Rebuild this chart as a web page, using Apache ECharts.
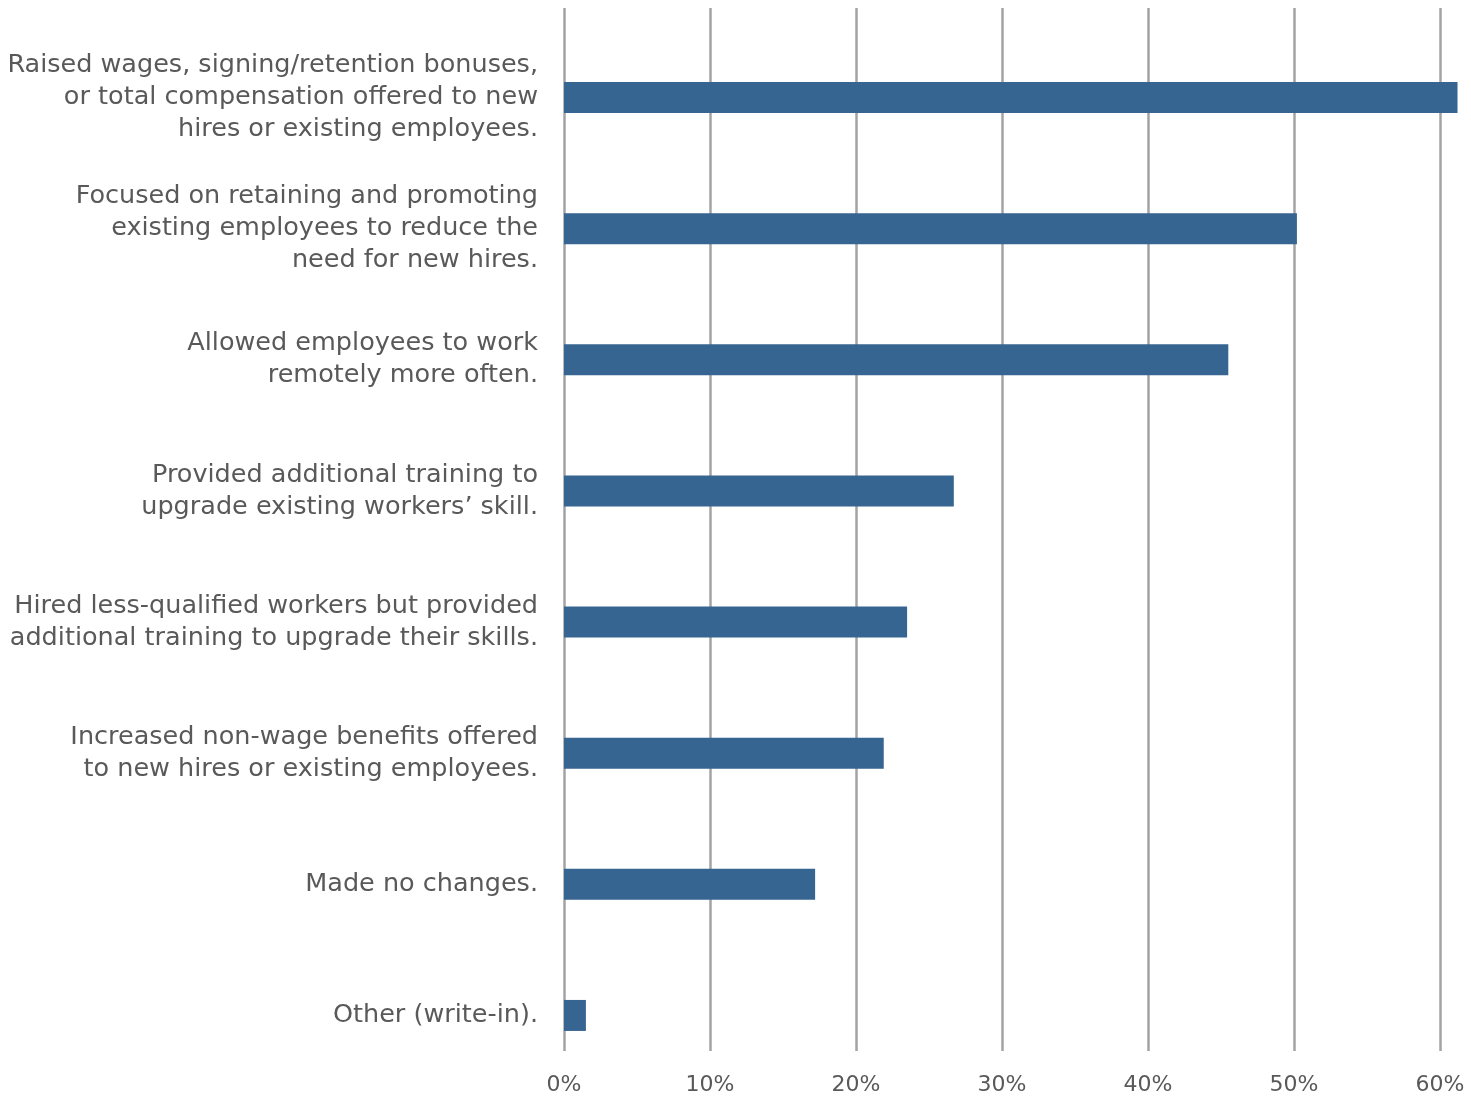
<!DOCTYPE html>
<html>
<head>
<meta charset="utf-8">
<style>
  html, body { margin: 0; padding: 0; background: #ffffff; }
  #chart { width: 1471px; height: 1097px; }
</style>
<script src="https://cdn.jsdelivr.net/npm/echarts@6/dist/echarts.min.js"></script>
</head>
<body>
<div id="chart"></div>
<script>
// Workforce strategies, share of respondents (%)
const categories = [
  'Raised wages, signing/retention bonuses,\nor total compensation offered to new\nhires or existing employees.',
  'Focused on retaining and promoting\nexisting employees to reduce the\nneed for new hires.',
  'Allowed employees to work\nremotely more often.',
  'Provided additional training to\nupgrade existing workers\u2019 skill.',
  'Hired less-qualified workers but provided\nadditional training to upgrade their skills.',
  'Increased non-wage benefits offered\nto new hires or existing employees.',
  'Made no changes.',
  'Other (write-in).'
];
const shares = [61.2, 50.2, 45.5, 26.7, 23.5, 21.9, 17.2, 1.5];
const tickValues = [0, 10, 20, 30, 40, 50, 60];

const FONT = 'DejaVu Sans';
const TEXT = '#595959';
const BAR = '#366591';
const GRID_LINE = '#a3a3a6';

const chart = echarts.init(document.getElementById('chart'), null, { renderer: 'canvas' });

chart.setOption({
  animation: false,
  backgroundColor: '#ffffff',
  grid: [
    // bars and category labels
    { left: 564, right: 31, top: 32, bottom: 16, containLabel: false },
    // vertical gridlines and percentage ticks
    { left: 564, right: 31, top: 8, bottom: 46, containLabel: false }
  ],
  xAxis: [
    {
      gridIndex: 0, type: 'value', min: 0, max: 60, interval: 10,
      show: false, splitLine: { show: false }
    },
    {
      gridIndex: 1, type: 'value', min: 0, max: 60, interval: 10,
      axisLine: { show: false }, axisTick: { show: false },
      splitLine: { show: true, lineStyle: { color: GRID_LINE, width: 2.5 } },
      axisLabel: {
        margin: 23, color: TEXT, fontFamily: FONT, fontSize: 22,
        formatter: v => tickValues.includes(v) ? v + '%' : ''
      }
    }
  ],
  yAxis: [
    {
      gridIndex: 0, type: 'category', data: categories, inverse: true,
      axisLine: { show: false }, axisTick: { show: false },
      splitLine: { show: false },
      axisLabel: {
        margin: 26, color: TEXT, fontFamily: FONT, fontSize: 25.5,
        lineHeight: 32, align: 'right'
      }
    },
    {
      gridIndex: 1, type: 'category', data: [], show: false
    }
  ],
  series: [
    {
      type: 'bar', xAxisIndex: 0, yAxisIndex: 0,
      data: shares, barWidth: 31, clip: false,
      itemStyle: { color: BAR }, z: 5
    }
  ]
});
</script>
</body>
</html>
